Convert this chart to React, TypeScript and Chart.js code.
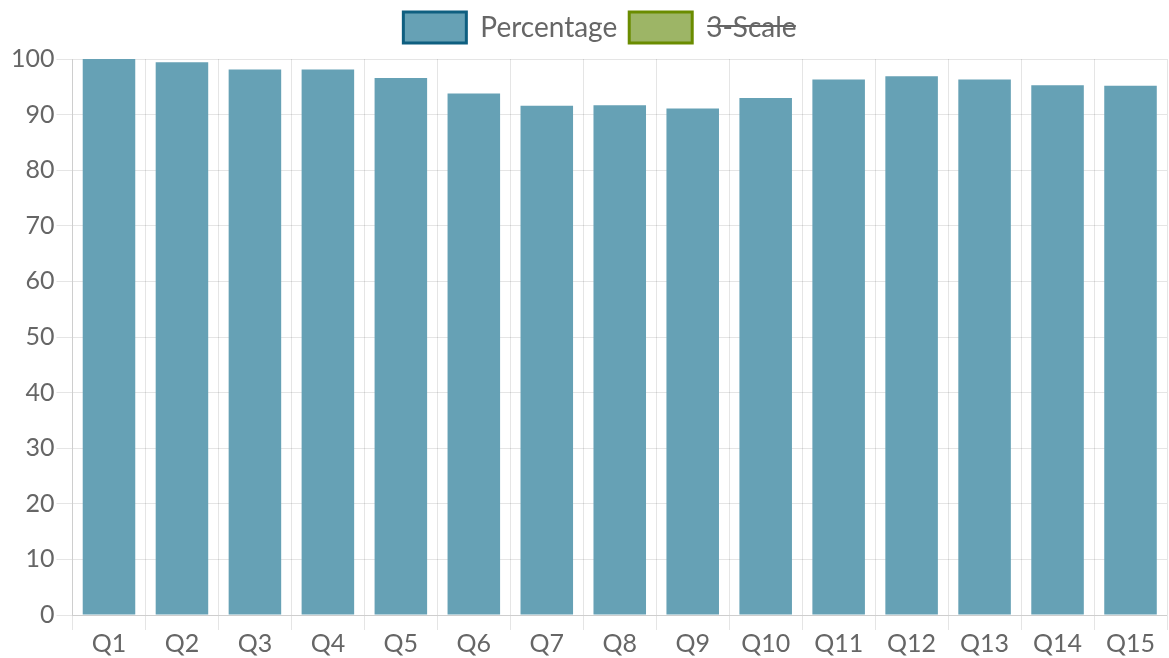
import React, { useEffect, useRef } from "react";
import { Chart, registerables } from "chart.js";

Chart.register(...registerables);

const categories = ["Q1", "Q2", "Q3", "Q4", "Q5", "Q6", "Q7", "Q8", "Q9", "Q10", "Q11", "Q12", "Q13", "Q14", "Q15"];
const percentageValues = [100, 99.4, 98.1, 98.1, 96.6, 93.8, 91.6, 91.7, 91.1, 93.0, 96.3, 96.9, 96.3, 95.3, 95.2];
const threeScaleValues: number[] = [];
const yTicks = [0, 10, 20, 30, 40, 50, 60, 70, 80, 90, 100];

export default function App() {
  const ref = useRef<HTMLCanvasElement>(null);
  useEffect(() => {
    document.body.style.margin = "0";
    const ctx = ref.current!;
    const tickFont = { family: "Lato", size: 25 };
    const legendFont = { family: "Lato", size: 28 };
    const legendSpacer = {
      id: "legendSpacer",
      beforeInit(chart: any) {
        const orig = chart.legend.fit;
        chart.legend.fit = function () {
          orig.call(this);
          this.height += 6;
        };
      },
      afterLayout(chart: any) {
        chart.legend.left += 24;
      },
    };
    const chart = new Chart(ctx, {
      type: "bar",
      plugins: [legendSpacer],
      data: {
        labels: categories,
        datasets: [
          {
            label: "Percentage",
            data: percentageValues,
            backgroundColor: "#66a1b5",
            borderColor: "#0f5f80",
            borderWidth: 0,
          },
          {
            label: "3-Scale",
            data: threeScaleValues,
            backgroundColor: "#9db566",
            borderColor: "#6a8c00",
            borderWidth: 0,
            hidden: true,
          },
        ],
      },
      options: {
        animation: false,
        responsive: false,
        maintainAspectRatio: false,
        layout: { padding: { left: 9, right: 2, top: 0, bottom: 0 } },
        plugins: {
          tooltip: { enabled: false },
          legend: {
            position: "top",
            labels: {
              color: "#666",
              font: legendFont,
              boxWidth: 63,
              boxHeight: 31,
              padding: 12,
              generateLabels: (c: any) => {
                const items = Chart.defaults.plugins.legend.labels.generateLabels(c);
                return items.map((it: any) => ({ ...it, lineWidth: 3 }));
              },
            },
          },
        },
        scales: {
          x: {
            ticks: { color: "#666", font: tickFont, padding: -1 },
            grid: { color: "rgba(0,0,0,0.1)", offset: true, tickLength: 15 },
          },
          y: {
            min: 0,
            max: 100,
            afterBuildTicks: (axis: any) => {
              axis.ticks = yTicks.map((v) => ({ value: v }));
            },
            ticks: { color: "#666", font: tickFont, stepSize: 10, padding: 2 },
            grid: { color: "rgba(0,0,0,0.1)", tickLength: 16 },
          },
        },
      },
    });
    return () => chart.destroy();
  }, []);
  return (
    <div style={{ width: 1169, height: 658 }}>
      <canvas ref={ref} width={1169} height={658} style={{ width: 1169, height: 658 }} />
    </div>
  );
}
